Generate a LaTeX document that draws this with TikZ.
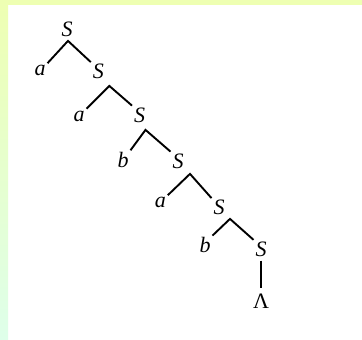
\documentclass[tikz,border=0pt]{standalone}
\usepackage{fontspec}
\setmainfont{Liberation Serif}
\definecolor{bgyellow}{RGB}{238,255,178}
\definecolor{bgmint}{RGB}{222,255,234}

\begin{document}
\begin{tikzpicture}[x=1pt,y=-1pt,font=\fontsize{22}{24}\selectfont\itshape,lbl/.style={inner sep=1.8pt},leg/.style={line width=1.9pt}]
\useasboundingbox (0,0) rectangle (362,340);
\fill[white] (0,0) rectangle (362,340);\fill[bgyellow] (0,0) rectangle (362,5);
\shade[top color=bgyellow,bottom color=bgmint] (0,0) rectangle (8,340);
\foreach \x/\y [count=\i] in {67/29,98.3/71.5,139.5/115,178/161,219/207.5,261/249.2}{\node[lbl] (s\i) at (\x,\y){S};}
\foreach \x/\y/\t [count=\i] in {40/70.5/a,79/116/a,123/160/b,160.3/202.5/a,205/245.3/b}{\node[lbl] (t\i) at (\x,\y){\t};}
\node[lbl,font=\fontsize{22}{24}\selectfont\upshape] (lam) at (261,301){Λ};
\foreach \i/\dx/\dy [evaluate=\i as \j using int(\i+1)] in {1/1/2.5,2/11/5,3/6/5.5,4/12/3.5,5/11/2}{\draw[leg] (t\i.north east) -- ([shift={(\dx,\dy)}]s\i.south) -- (s\j.north west);}
\draw[leg,shorten <=2pt,shorten >=4pt] (s6) -- (lam);
\end{tikzpicture}
\end{document}
